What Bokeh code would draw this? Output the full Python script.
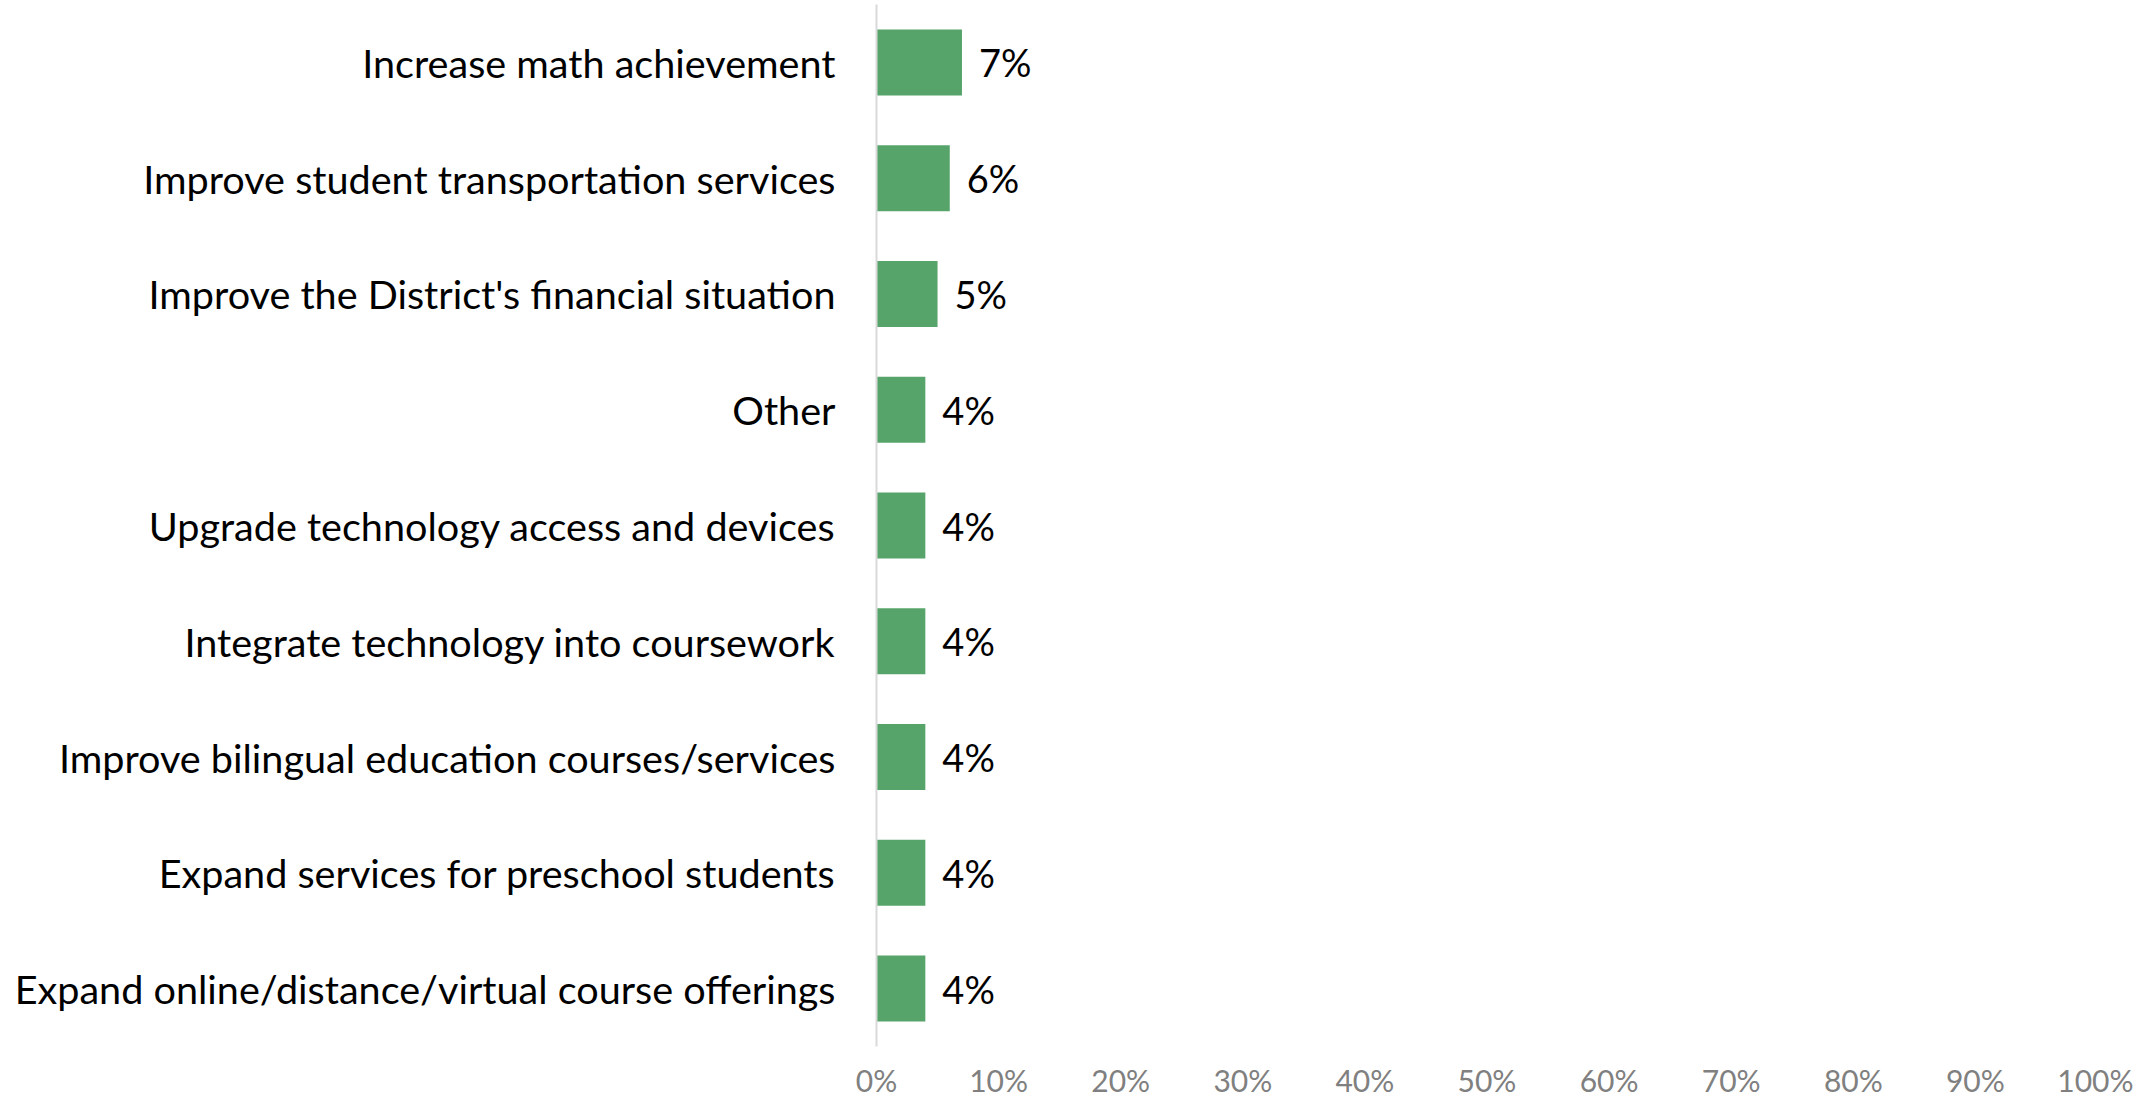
from bokeh.plotting import figure
from bokeh.models import FactorRange, Range1d, FixedTicker, ColumnDataSource
from bokeh.core.properties import value
from bokeh.embed import file_html
from bokeh.resources import INLINE

categories = [
    "Increase math achievement",
    "Improve student transportation services",
    "Improve the District's financial situation",
    "Other",
    "Upgrade technology access and devices",
    "Integrate technology into coursework",
    "Improve bilingual education courses/services",
    "Expand services for preschool students",
    "Expand online/distance/virtual course offerings",
]
values = [7, 6, 5, 4, 4, 4, 4, 4, 4]
value_labels = ["7%", "6%", "5%", "4%", "4%", "4%", "4%", "4%", "4%"]
tick_values = [0, 10, 20, 30, 40, 50, 60, 70, 80, 90, 100]
tick_labels = ["0%", "10%", "20%", "30%", "40%", "50%", "60%", "70%", "80%", "90%", "100%"]

FONT = "Lato"
BAR = "#57A46B"

src = ColumnDataSource(dict(cat=categories, val=values, lab=value_labels))

p = figure(
    y_range=FactorRange(factors=list(reversed(categories))),
    x_range=Range1d(0, 100),
    frame_width=1221,
    frame_height=1042,
    min_border_left=876,
    min_border_right=36,
    min_border_top=4,
    min_border_bottom=40,
    output_backend="svg",
    toolbar_location=None,
)
p.outline_line_color = None
p.xgrid.visible = False
p.ygrid.visible = False
p.background_fill_color = "white"
p.border_fill_color = "white"

p.hbar(y="cat", right="val", left=0, height=0.57, fill_color=BAR, line_color=None, source=src)
p.text(x="val", y="cat", text="lab", x_offset=17, text_baseline="middle", text_align="left",
       text_font=value(FONT), text_font_size="38px", text_color="black", source=src)

xa = p.xaxis[0]
xa.ticker = FixedTicker(ticks=tick_values)
xa.major_label_overrides = {t: l for t, l in zip(tick_values, tick_labels)}
xa.axis_line_color = None
xa.major_tick_line_color = None
xa.minor_tick_line_color = None
xa.major_label_text_font = FONT
xa.major_label_text_font_size = "30px"
xa.major_label_text_color = "#808080"
xa.major_label_standoff = 9

ya = p.yaxis[0]
ya.axis_line_color = "#D9D9D9"
ya.axis_line_width = 2
ya.major_tick_line_color = None
ya.minor_tick_line_color = None
ya.major_tick_out = 0
ya.major_label_text_font = FONT
ya.major_label_text_font_size = "39.6px"
ya.major_label_text_color = "black"
ya.major_label_standoff = 41

open("out.html", "w").write(file_html(p, INLINE))
